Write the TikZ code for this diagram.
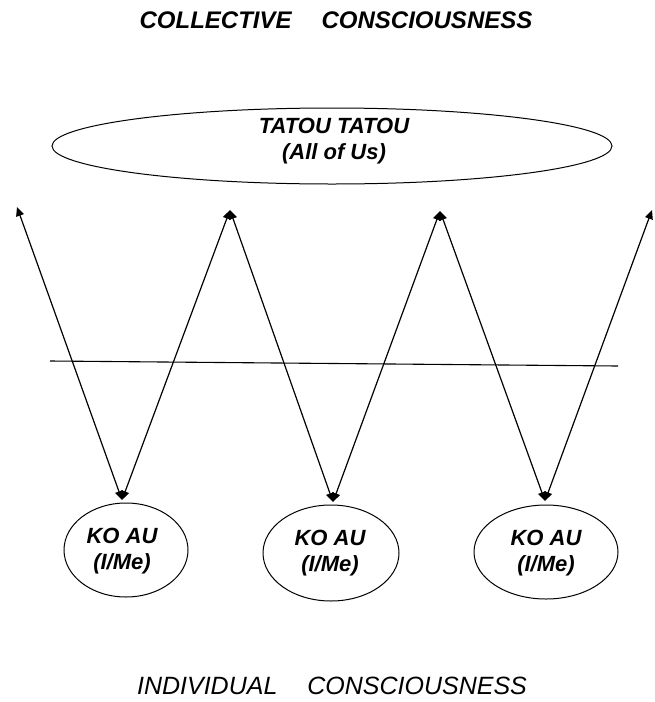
\documentclass[tikz,border=0pt]{standalone}
\usepackage{fontspec}
\setmainfont{Liberation Sans}
\usetikzlibrary{arrows.meta,shapes.geometric}
\begin{document}
\begin{tikzpicture}[x=1pt,y=-1pt,
  lbl/.style={font=\fontsize{22}{26}\selectfont\bfseries\itshape, inner sep=0pt, align=center},
  ovalbox/.style={draw, line width=1pt, ellipse, inner sep=0pt},
  link/.style={line width=1.2pt, {Triangle[length=9pt,width=8pt]}-{Triangle[length=9pt,width=8pt]}}
]
\useasboundingbox (0,0) rectangle (655,702);
% titles
\node[lbl, font=\fontsize{24}{26}\selectfont\bfseries\itshape] (top) at (336,20) {COLLECTIVE\hspace{30pt}CONSCIOUSNESS};
\node[lbl, font=\fontsize{25}{26}\selectfont\itshape] (bot) at (332,686) {INDIVIDUAL\hspace{30pt}CONSCIOUSNESS};
% big ellipse
\node[ovalbox, minimum width=560pt, minimum height=76pt] (all) at (332,146) {};
\node[lbl, font=\fontsize{22}{26}\selectfont\bfseries\itshape] (alltxt) at (334,141) {TATOU TATOU\\(All of Us)};
% small ellipses
\node[ovalbox, minimum width=124pt, minimum height=94pt] (k1) at (126,550) {};
\node[ovalbox, minimum width=136pt, minimum height=96pt] (k2) at (331,553) {};
\node[ovalbox, minimum width=144pt, minimum height=94pt] (k3) at (546,552) {};
\node[lbl] (k1t) at (122,551) {KO AU\\(I/Me)};
\node[lbl] (k2t) at (330,553) {KO AU\\(I/Me)};
\node[lbl] (k3t) at (546,553) {KO AU\\(I/Me)};
% apex coordinates
\coordinate (t0) at (17,207);
\coordinate (t1) at (230,210);
\coordinate (t2) at (440,211);
\coordinate (t3) at (652,210);
\coordinate (b1) at (122,500);
\coordinate (b2) at (333,502);
\coordinate (b3) at (545,501);
% connectors
\draw[link] (t0) -- (b1);
\draw[link] (b1) -- (t1);
\draw[link] (t1) -- (b2);
\draw[link] (b2) -- (t2);
\draw[link] (t2) -- (b3);
\draw[link] (b3) -- (t3);
% horizontal line
\coordinate (h0) at (50,361);
\coordinate (h1) at (618,366);
\draw[line width=1.1pt] (h0) -- (h1);
\end{tikzpicture}
\end{document}
